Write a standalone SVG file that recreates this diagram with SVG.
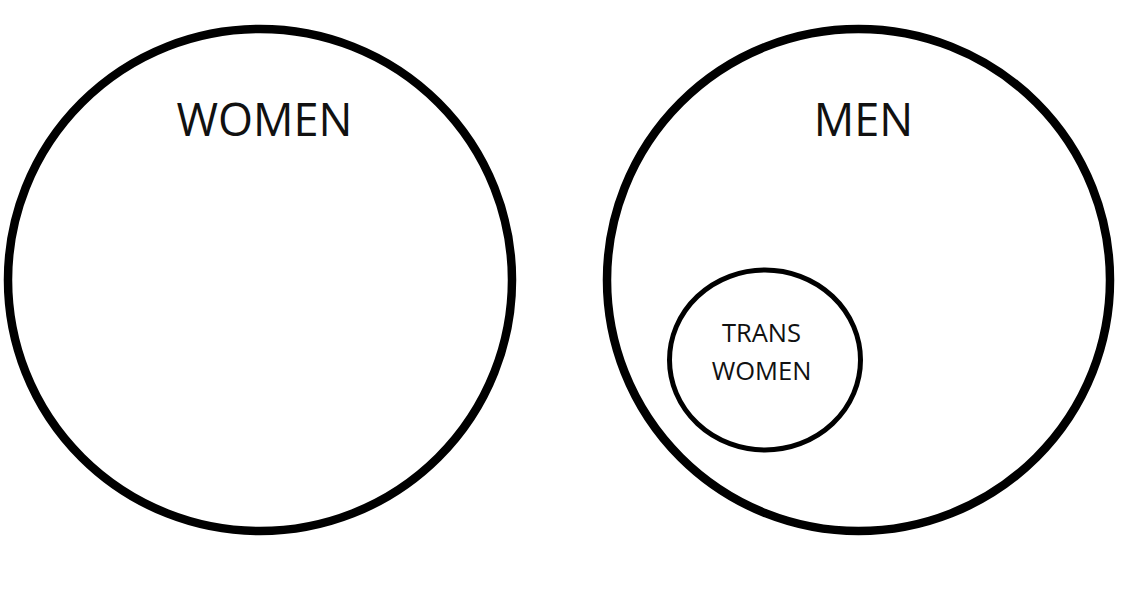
<svg xmlns="http://www.w3.org/2000/svg" width="1141" height="600" viewBox="0 0 1141 600">
<style>
.big{fill:none;stroke:#000;stroke-width:8.5}
.small{fill:none;stroke:#000;stroke-width:5}
.lbl{font-family:"Open Sans","Liberation Sans",sans-serif;fill:#111;text-anchor:middle}
.lg{font-size:45px}
.sm{font-size:25.5px}
</style>
<rect width="1141" height="600" fill="#fff"/>
<g id="women">
<ellipse class="big" cx="260" cy="280" rx="252" ry="251"/>
<text class="lbl lg" x="264.5" y="136">WOMEN</text>
</g>
<g id="men">
<ellipse class="big" cx="858.5" cy="280" rx="251.5" ry="251"/>
<text class="lbl lg" x="863.5" y="136">MEN</text>
</g>
<g id="trans-women">
<ellipse class="small" cx="765" cy="360" rx="95.5" ry="90"/>
<text class="lbl sm" x="761.5" y="342">TRANS</text>
<text class="lbl sm" x="761.5" y="380">WOMEN</text>
</g>
<g id="connectors"></g>
</svg>
